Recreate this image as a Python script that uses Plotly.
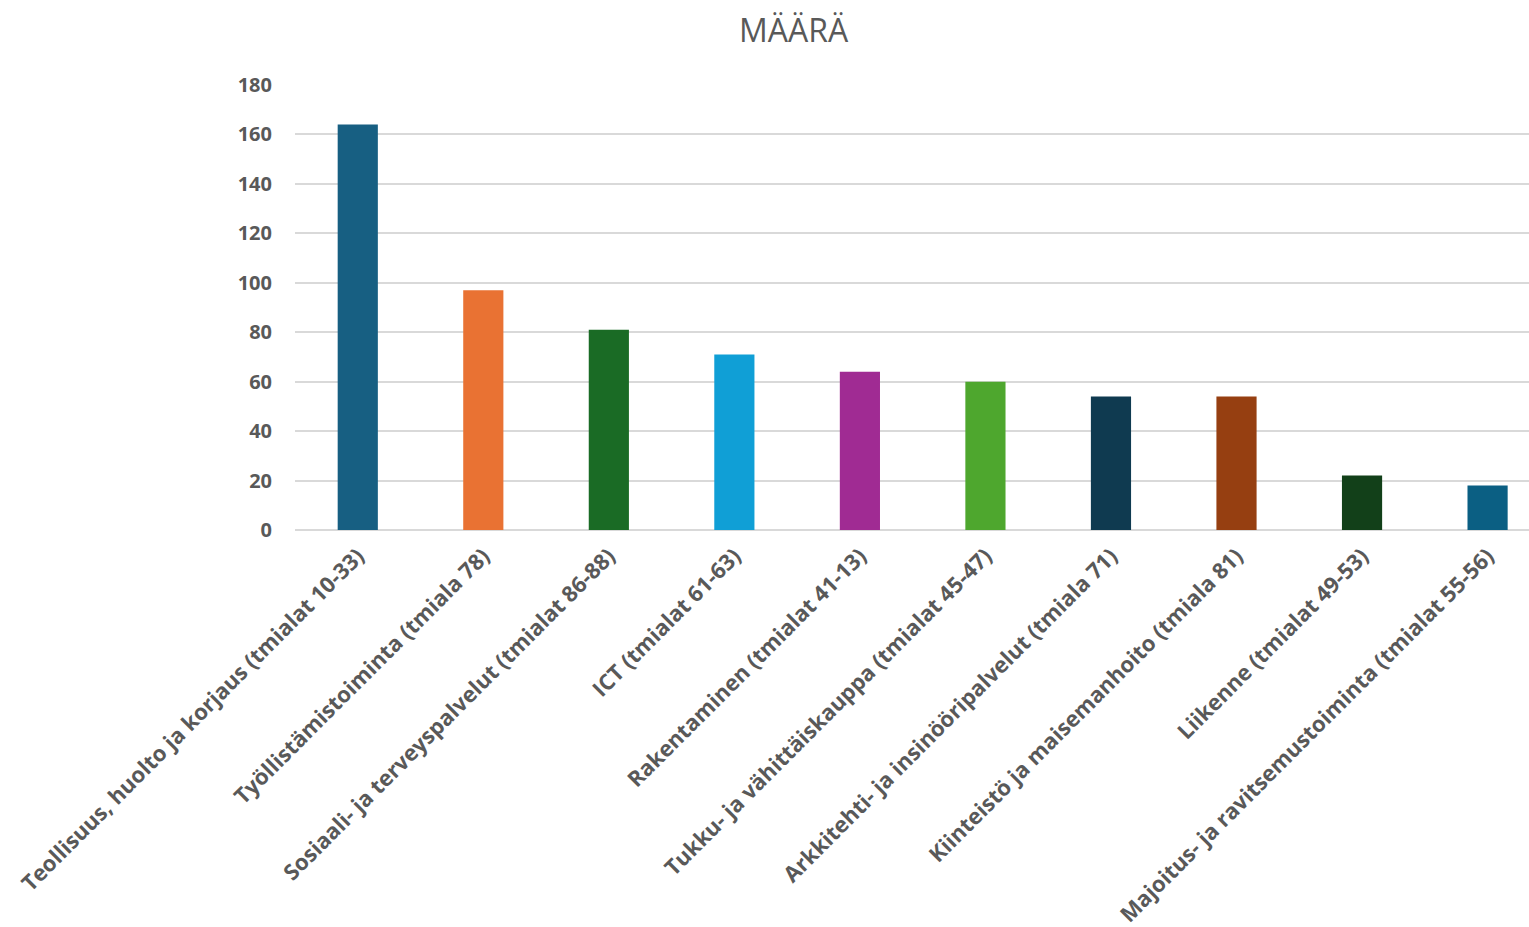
import plotly.graph_objects as go

categories = [
    "Teollisuus, huolto ja korjaus (tmialat 10-33)",
    "Työllistämistoiminta (tmiala 78)",
    "Sosiaali- ja terveyspalvelut (tmialat 86-88)",
    "ICT (tmialat 61-63)",
    "Rakentaminen (tmialat 41-13)",
    "Tukku- ja vähittäiskauppa (tmialat 45-47)",
    "Arkkitehti- ja insinööripalvelut (tmiala 71)",
    "Kiinteistö ja maisemanhoito (tmiala 81)",
    "Liikenne (tmialat 49-53)",
    "Majoitus- ja ravitsemustoiminta (tmialat 55-56)",
]
values = [164, 97, 81, 71, 64, 60, 54, 54, 22, 18]
colors = ["#175F82", "#E97233", "#1A6B25", "#109FD6", "#A02B93",
          "#4EA72E", "#0F3A50", "#963F11", "#124019", "#0B5F83"]
title_text = "MÄÄRÄ"

fig = go.Figure(go.Bar(
    x=categories, y=values, marker=dict(color=colors, line=dict(width=0)),
    width=0.32, hoverinfo="x+y",
))

W, H = 1529, 927
L, R, T, B = 295, 0, 85, 397

fig.update_layout(
    width=W, height=H,
    margin=dict(l=L, r=R, t=T, b=B, pad=0),
    paper_bgcolor="white", plot_bgcolor="white",
    showlegend=False,
    font=dict(family="Open Sans", color="#595959"),
    annotations=[dict(
        text=title_text, xref="paper", yref="paper",
        x=(794 - L) / (W - L - R), y=1 + (T - 30) / (H - T - B),
        xanchor="center", yanchor="middle", showarrow=False,
        font=dict(family="Open Sans", size=32, color="#595959"),
    )],
)
fig.update_xaxes(
    range=[-0.5, 9.33],
    tickangle=-45, showgrid=False, showline=False, ticks="",
    ticklabelstandoff=8,
    tickfont=dict(family="Open Sans", size=22, color="#595959", weight="bold"),
)
fig.update_yaxes(
    range=[0, 180], dtick=20, showgrid=True, gridcolor="#D9D9D9", gridwidth=1.5,
    zeroline=True, zerolinecolor="#D9D9D9", zerolinewidth=1.5, showline=False,
    ticks="", ticklabelstandoff=22,
    tickfont=dict(family="Open Sans", size=20, color="#595959", weight="bold"),
)

fig.write_html("out.html", config={"displayModeBar": False},
               post_script="document.body.style.margin='0';")
